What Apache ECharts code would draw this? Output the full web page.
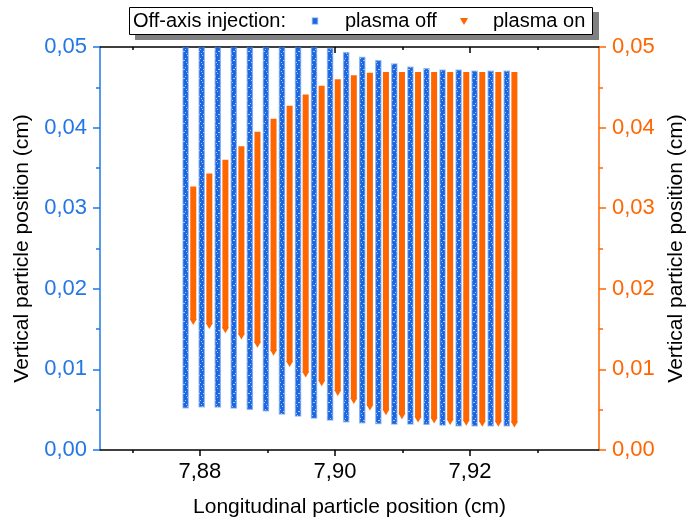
<html>

<head>
    <meta charset="UTF-8">
    <title>Off-axis injection</title>
    <script src="https://cdn.jsdelivr.net/npm/echarts@6/dist/echarts.min.js"></script>
    <style>
        body { margin: 0; background: #fff; }
    </style>
</head>

<body>
    <div id="container" style="width: 699px;height:523px;"></div>
</body>

<script>
    // column positions (cm) and vertical extent of each column (cm)
    var offX = [7.87788, 7.88026, 7.88264, 7.88501, 7.88739, 7.88977, 7.89215, 7.89453, 7.89690, 7.89928, 7.90166,
        7.90404, 7.90642, 7.90879, 7.91117, 7.91355, 7.91593, 7.91831, 7.92068, 7.92306, 7.92544];
    var offTop = [0.0505, 0.0505, 0.0505, 0.0505, 0.0505, 0.0505, 0.0505, 0.0505, 0.0505, 0.0498, 0.0493,
        0.0487, 0.0483, 0.0479, 0.0475, 0.0473, 0.0471, 0.0471, 0.0470, 0.0470, 0.0470];
    var offBottom = [0.00525, 0.00537, 0.00533, 0.0052, 0.00505, 0.00488, 0.00447, 0.00422, 0.00397, 0.00372, 0.00352,
        0.00339, 0.0033, 0.00323, 0.00323, 0.0032, 0.0031, 0.0030, 0.0030, 0.0030, 0.0030];

    var onX = [7.87901, 7.88139, 7.88377, 7.88614, 7.88852, 7.89090, 7.89328, 7.89566, 7.89803, 7.90041, 7.90279,
        7.90517, 7.90755, 7.90992, 7.91230, 7.91468, 7.91706, 7.91944, 7.92181, 7.92419, 7.92657];
    var onTop = [0.0327, 0.0343, 0.0360, 0.0377, 0.0395, 0.0411, 0.0427, 0.0441, 0.0452, 0.0460, 0.0465,
        0.0468, 0.0469, 0.0469, 0.0469, 0.0469, 0.0469, 0.0469, 0.0469, 0.0469, 0.0469];
    var onBottom = [0.0155, 0.0150, 0.0145, 0.0137, 0.0127, 0.0117, 0.0103, 0.0090, 0.0079, 0.0067, 0.0057,
        0.0049, 0.0043, 0.0038, 0.0034, 0.0033, 0.0031, 0.0030, 0.0029, 0.0029, 0.0028];

    var xMajor = [7.88, 7.90, 7.92];
    var xMinor = [7.87, 7.89, 7.91, 7.93];

    var BLUE = '#1a66e0';
    var BLUE_TXT = '#2376e6';
    var ORANGE = '#ff6600';
    var FONT = '"Liberation Sans", Arial, sans-serif';

    // sparse light specks laid over the asterisk columns
    var pat = document.createElement('canvas');
    pat.width = 5; pat.height = 9;
    var pc = pat.getContext('2d');
    pc.fillStyle = 'rgba(190,215,250,0.85)';
    pc.fillRect(2, 1, 1, 1); pc.fillRect(0, 4, 1, 1); pc.fillRect(3, 6, 2, 1); pc.fillRect(1, 8, 1, 1);

    function toRows(xs, lo, hi) {
        var rows = [];
        for (var i = 0; i < xs.length; i++) {
            rows.push([xs[i], lo[i], hi[i]]);
        }
        return rows;
    }

    function renderOff(params, api) {
        var top = api.coord([api.value(0), api.value(2)]);
        var bot = api.coord([api.value(0), api.value(1)]);
        var shape = { x: top[0] - 2.5, y: top[1], width: 5, height: bot[1] - top[1] };
        return {
            type: 'group',
            children: [{
                type: 'rect',
                shape: shape,
                style: { fill: BLUE, stroke: 'rgba(90,145,235,0.55)', lineWidth: 1.5 }
            }, {
                type: 'rect',
                shape: shape,
                style: { fill: { image: pat, repeat: 'repeat' } }
            }]
        };
    }

    function renderOn(params, api) {
        var top = api.coord([api.value(0), api.value(2)]);
        var bot = api.coord([api.value(0), api.value(1)]);
        var cx = top[0];
        return {
            type: 'group',
            children: [{
                type: 'rect',
                shape: { x: cx - 3, y: top[1], width: 6, height: bot[1] - top[1] - 5 },
                style: { fill: ORANGE }
            }, {
                type: 'polygon',
                shape: { points: [[cx - 3.5, bot[1] - 6], [cx + 3.5, bot[1] - 6], [cx, bot[1]]] },
                style: { fill: ORANGE }
            }]
        };
    }

    function fmt(v) {
        return v.toFixed(2).replace('.', ',');
    }

    var mycharts = echarts.init(document.getElementById('container'));

    var xBase = { type: 'value', min: 7.8652, max: 7.9391, splitLine: { show: false } };

    var option = {
        animation: false,
        textStyle: { fontFamily: FONT },
        grid: { left: 100, right: 100, top: 47, bottom: 73 },
        xAxis: [
            Object.assign({}, xBase, {
                position: 'bottom',
                name: 'Longitudinal particle position (cm)',
                nameLocation: 'middle',
                nameGap: 47,
                nameTextStyle: { fontSize: 21, color: '#000', fontFamily: FONT },
                axisLine: { lineStyle: { color: '#000', width: 1.5 } },
                axisTick: { length: 6, customValues: xMajor, lineStyle: { color: '#000', width: 1.5 } },
                axisLabel: { customValues: xMajor, formatter: fmt, fontSize: 22, color: '#000', margin: 11, fontFamily: FONT }
            }),
            Object.assign({}, xBase, {
                position: 'bottom',
                axisLine: { show: false },
                axisTick: { length: 3, customValues: xMinor, lineStyle: { color: '#000', width: 1.5 } },
                axisLabel: { show: false }
            }),
            Object.assign({}, xBase, {
                position: 'top',
                axisLine: { lineStyle: { color: '#000', width: 1.5 } },
                axisTick: { inside: true, length: 6, customValues: xMajor, lineStyle: { color: '#000', width: 1.5 } },
                axisLabel: { show: false }
            }),
            Object.assign({}, xBase, {
                position: 'top',
                axisLine: { show: false },
                axisTick: { inside: true, length: 3, customValues: xMinor, lineStyle: { color: '#000', width: 1.5 } },
                axisLabel: { show: false }
            })
        ],
        yAxis: [{
            type: 'value', position: 'left', min: 0, max: 0.05, interval: 0.01,
            name: 'Vertical particle position (cm)',
            nameLocation: 'middle',
            nameGap: 67,
            nameTextStyle: { fontSize: 21, color: '#000', fontFamily: FONT },
            splitLine: { show: false },
            axisLine: { show: true, lineStyle: { color: BLUE_TXT, width: 1.5 } },
            axisTick: { show: true, length: 7, lineStyle: { color: BLUE_TXT, width: 1.5 } },
            minorTick: { show: true, splitNumber: 2, length: 4, lineStyle: { color: BLUE_TXT, width: 1.5 } },
            axisLabel: { formatter: fmt, fontSize: 22, color: BLUE_TXT, margin: 13, fontFamily: FONT }
        }, {
            type: 'value', position: 'right', min: 0, max: 0.05, interval: 0.01,
            name: 'Vertical particle position (cm)',
            nameLocation: 'middle',
            nameGap: 63,
            nameTextStyle: { fontSize: 21, color: '#000', fontFamily: FONT },
            splitLine: { show: false },
            axisLine: { show: true, lineStyle: { color: ORANGE, width: 1.5 } },
            axisTick: { show: true, length: 7, lineStyle: { color: ORANGE, width: 1.5 } },
            minorTick: { show: true, splitNumber: 2, length: 4, lineStyle: { color: ORANGE, width: 1.5 } },
            axisLabel: { formatter: fmt, fontSize: 22, color: ORANGE, margin: 13, fontFamily: FONT }
        }],
        graphic: [
            { type: 'rect', shape: { x: 135, y: 12, width: 464, height: 28 }, style: { fill: '#808080' }, z: 10 },
            { type: 'rect', shape: { x: 129.5, y: 7.5, width: 463, height: 27 }, style: { fill: '#fff', stroke: '#000', lineWidth: 1 }, z: 11 },
            { type: 'text', x: 133, y: 21, style: { text: 'Off-axis injection:', fontSize: 20, fontFamily: FONT, fill: '#000', verticalAlign: 'middle' }, z: 12 },
            { type: 'rect', shape: { x: 312.5, y: 18, width: 5, height: 6 }, style: { fill: BLUE, stroke: 'rgba(90,145,235,0.55)', lineWidth: 1.5 }, z: 12 },
            { type: 'text', x: 345, y: 21, style: { text: 'plasma off', fontSize: 20, fontFamily: FONT, fill: '#000', verticalAlign: 'middle' }, z: 12 },
            { type: 'polygon', shape: { points: [[460, 18], [468, 18], [464, 25]] }, style: { fill: ORANGE }, z: 12 },
            { type: 'text', x: 493, y: 21, style: { text: 'plasma on', fontSize: 20, fontFamily: FONT, fill: '#000', verticalAlign: 'middle' }, z: 12 }
        ],
        series: [{
            name: 'plasma off',
            type: 'custom',
            xAxisIndex: 0,
            yAxisIndex: 0,
            clip: true,
            renderItem: renderOff,
            encode: { x: 0, y: [1, 2] },
            data: toRows(offX, offBottom, offTop)
        }, {
            name: 'plasma on',
            type: 'custom',
            xAxisIndex: 0,
            yAxisIndex: 1,
            clip: true,
            renderItem: renderOn,
            encode: { x: 0, y: [1, 2] },
            data: toRows(onX, onBottom, onTop)
        }]
    };

    mycharts.setOption(option);
</script>

</html>
